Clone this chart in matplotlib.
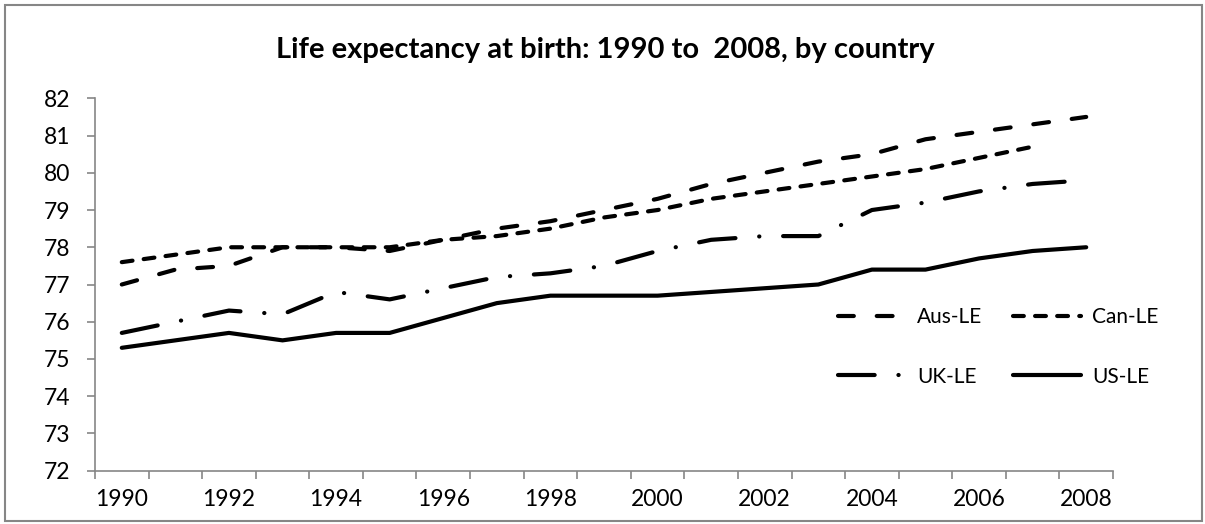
import matplotlib
matplotlib.use("Agg")
import matplotlib.pyplot as plt
import numpy as np
from matplotlib.patches import Rectangle

years = list(range(1990, 2009))
aus = [77.0, 77.4, 77.5, 78.0, 78.0, 77.9, 78.2, 78.5, 78.7, 79.0, 79.3, 79.7, 80.0, 80.3, 80.5, 80.9, 81.1, 81.3, 81.5]
can = [77.6, 77.8, 78.0, 78.0, 78.0, 78.0, 78.2, 78.3, 78.5, 78.8, 79.0, 79.3, 79.5, 79.7, 79.9, 80.1, 80.4, 80.7, None]
uk = [75.7, 76.0, 76.3, 76.2, 76.8, 76.6, 76.9, 77.2, 77.3, 77.5, 77.9, 78.2, 78.3, 78.3, 79.0, 79.2, 79.5, 79.7, 79.8]
us = [75.3, 75.5, 75.7, 75.5, 75.7, 75.7, 76.1, 76.5, 76.7, 76.7, 76.7, 76.8, 76.9, 77.0, 77.4, 77.4, 77.7, 77.9, 78.0]
series_labels = ["Aus-LE", "Can-LE", "UK-LE", "US-LE"]
title = "Life expectancy at birth: 1990 to  2008, by country"

plt.rcParams['font.family'] = ['Lato', 'DejaVu Sans']

W, H = 1205, 524
fig = plt.figure(figsize=(W/100, H/100), dpi=100)
ax_l, ax_r, ax_t, ax_b = 95, 1113, 98.3, 470.7
ax = fig.add_axes([ax_l/W, 1 - ax_b/H, (ax_r-ax_l)/W, (ax_b-ax_t)/H])

x = np.arange(len(years))
def arr(v):
    return np.array([np.nan if a is None else a for a in v], dtype=float)

lw = 3.0
styles = [
    dict(linestyle=(0, (3.8, 5.5))),
    dict(linestyle=(0, (2.6, 2.7))),
    dict(linestyle=(0, (8.8, 5.7, 0.05, 5.7))),
    dict(linestyle='-'),
]
lines = []
for vals, lab, st in zip([aus, can, uk, us], series_labels, styles):
    ln, = ax.plot(x, arr(vals), color='black', lw=lw, dash_capstyle='round',
                  solid_capstyle='round', solid_joinstyle='round', dash_joinstyle='round',
                  label=lab, **st)
    lines.append(ln)

ax.set_xlim(-0.5, len(years) - 0.5)
ax.set_ylim(72, 82)
ax.set_yticks(np.arange(72, 83, 1))
ax.set_xticks(np.arange(-0.5, len(years), 1.0))
ax.set_xticklabels([])
ax.set_xticks(x[::2], minor=True)
ax.set_xticklabels([str(y) for y in years[::2]], minor=True)
ax.tick_params(axis='x', which='major', length=6, width=1.2, color='#868686', direction='out')
ax.tick_params(axis='x', which='minor', length=0, pad=13, labelsize=16.5)
ax.tick_params(axis='y', length=6, width=1.2, color='#868686', direction='out', pad=12, labelsize=16.5)

for s in ['top', 'right']:
    ax.spines[s].set_visible(False)
for s in ['left', 'bottom']:
    ax.spines[s].set_color('#868686')
    ax.spines[s].set_linewidth(1.2)

fig.text(605/W, 1 - 50/H, title, ha='center', va='center', fontsize=21, fontweight='bold')

order = [0, 2, 1, 3]
leg = ax.legend([lines[i] for i in order], [series_labels[i] for i in order],
                ncol=2, loc='upper left',
                bbox_to_anchor=((838-ax_l)/(ax_r-ax_l), (ax_b-307)/(ax_b-ax_t)),
                frameon=False, fontsize=15, handlelength=3.3, handletextpad=0.5,
                columnspacing=1.45, labelspacing=1.9, borderaxespad=0, borderpad=0)

fig.patches.append(Rectangle((4.5/W, 3.5/H), 1197/W, 516/H, transform=fig.transFigure,
                             fill=False, edgecolor='#868686', lw=1.5))

fig.savefig('out.png', dpi=100)
